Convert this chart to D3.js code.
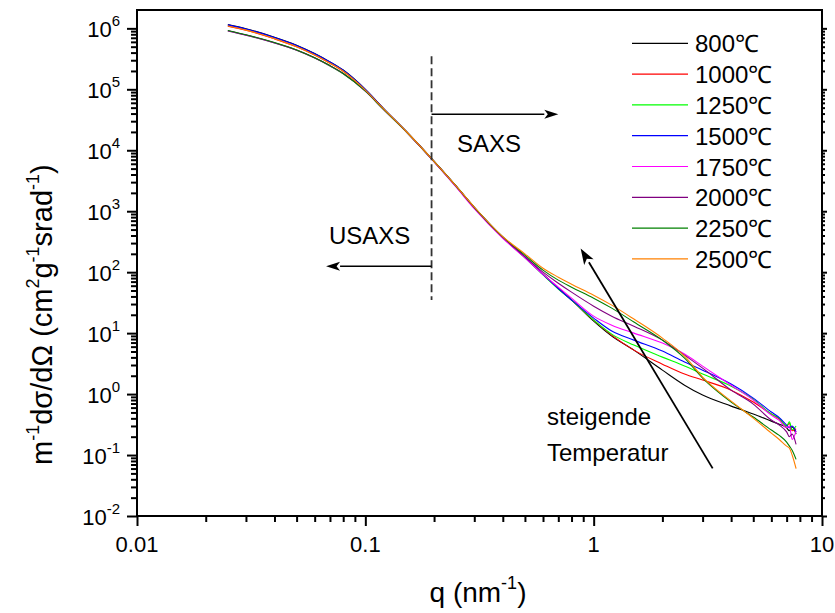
<!DOCTYPE html>
<html>
<head>
<meta charset="utf-8">
<script src="https://cdn.jsdelivr.net/npm/d3@7"></script>
<style>
  html, body { margin: 0; padding: 0; background: #fff; }
  svg { display: block; font-family: "Liberation Sans", Arial, Helvetica, sans-serif; }
</style>
</head>
<body>
<svg id="chart" width="835" height="613"></svg>
<script>
// Scattering vector q (nm^-1), shared by all curves
const q = [0.025, 0.03, 0.04, 0.05, 0.06, 0.07, 0.08, 0.1, 0.12, 0.15, 0.2, 0.25, 0.3, 0.4, 0.5,
           0.6, 0.7, 0.8, 1.0, 1.2, 1.5, 2.0, 2.5, 3.0, 4.0, 5.0, 6.0, 6.5, 7.0, 7.2, 7.4, 7.7];

// Mass-normalised cross section m^-1 dσ/dΩ (cm^2 g^-1 srad^-1) per heat-treatment temperature
const s800  = [1.15e6, 9.85e5, 7.17e5, 5.30e5, 3.86e5, 2.82e5, 2.07e5, 1.00e5, 4.88e4, 2.09e4, 6.6e3, 2.57e3, 1.16e3, 375, 176,
               93, 55, 35, 15.7, 8.93, 5.26, 2.47, 1.40, 0.963, 0.635, 0.470, 0.36, 0.32, 0.28, 0.25, 0.29, 0.22];
const s1000 = [1.087e6, 9.34e5, 6.73e5, 4.97e5, 3.64e5, 2.67e5, 1.97e5, 9.70e4, 4.79e4, 2.08e4, 6.55e3, 2.56e3, 1.15e3, 372, 176,
               93, 54, 35, 16.3, 9.27, 5.26, 3.10, 2.13, 1.70, 1.16, 0.739, 0.47, 0.39, 0.30, 0.33, 0.25, 0.27];
const s1250 = [9.03e5, 7.71e5, 5.74e5, 4.36e5, 3.25e5, 2.42e5, 1.80e5, 9.34e4, 4.70e4, 2.07e4, 6.5e3, 2.52e3, 1.13e3, 368, 172,
               90, 53, 35, 16.3, 9.63, 6.36, 4.04, 2.88, 2.13, 1.35, 0.828, 0.47, 0.40, 0.30, 0.35, 0.26, 0.30];
const s1500 = [1.14e6, 9.75e5, 7.10e5, 5.25e5, 3.83e5, 2.80e5, 2.05e5, 9.95e4, 4.86e4, 2.09e4, 6.6e3, 2.56e3, 1.15e3, 372, 176,
               92, 54, 35, 17.6, 10.8, 7.68, 5.07, 3.35, 2.47, 1.46, 0.860, 0.507, 0.41, 0.31, 0.28, 0.30, 0.24];
const s1750 = [9.1e5, 7.75e5, 5.78e5, 4.38e5, 3.27e5, 2.43e5, 1.81e5, 9.36e4, 4.70e4, 2.06e4, 6.45e3, 2.48e3, 1.10e3, 360, 172,
               92, 56.8, 37.5, 19.0, 13.5, 10.0, 6.86, 4.53, 2.88, 1.40, 0.797, 0.452, 0.37, 0.28, 0.30, 0.18, 0.25];
const s2000 = [9.15e5, 7.8e5, 5.8e5, 4.4e5, 3.28e5, 2.44e5, 1.82e5, 9.4e4, 4.72e4, 2.08e4, 6.5e3, 2.55e3, 1.15e3, 376, 180,
               100, 66, 47, 27.7, 19.0, 13.0, 7.68, 4.36, 2.67, 1.16, 0.686, 0.375, 0.31, 0.24, 0.20, 0.22, 0.15];
const s2250 = [9.2e5, 7.85e5, 5.85e5, 4.42e5, 3.3e5, 2.45e5, 1.82e5, 9.4e4, 4.72e4, 2.08e4, 6.55e3, 2.57e3, 1.16e3, 380, 190,
               108, 74, 56.8, 37.5, 25.7, 15.2, 7.68, 3.89, 1.83, 0.739, 0.420, 0.257, 0.21, 0.163, 0.14, 0.12, 0.085];
const s2500 = [1.09e6, 9.36e5, 6.75e5, 4.98e5, 3.65e5, 2.68e5, 1.98e5, 9.72e4, 4.8e4, 2.09e4, 6.6e3, 2.58e3, 1.17e3, 382, 200,
               116, 82.8, 63.6, 42.0, 28.8, 17.0, 8.28, 4.20, 1.90, 0.768, 0.404, 0.229, 0.18, 0.140, 0.13, 0.10, 0.06];

const seriesNames = ["800℃", "1000℃", "1250℃", "1500℃", "1750℃", "2000℃", "2250℃", "2500℃"];
const seriesValues = [s800, s1000, s1250, s1500, s1750, s2000, s2250, s2500];
const seriesColors = ["#000000", "#ff0000", "#00ff00", "#0000ff", "#ff00ff", "#800080", "#008000", "#ff8000"];

// Axis ticks
const xTickValues = [0.01, 0.1, 1, 10];
const xTickLabels = ["0.01", "0.1", "1", "10"];
const yTickExponents = [-2, -1, 0, 1, 2, 3, 4, 5, 6];

// Boundary between the USAXS and SAXS q ranges
const qBoundary = 0.195;

const svg = d3.select("#chart");
const plotLeft = 137, plotRight = 822, plotTop = 10, plotBottom = 516;

const x = d3.scaleLog().domain([0.01, 10]).range([plotLeft, plotRight]);
const y = d3.scaleLog().domain([0.01, 2e6]).range([plotBottom, plotTop]);

function minorTicks(lo, hi) {
  const out = [];
  for (let e = Math.floor(Math.log10(lo)); e <= Math.ceil(Math.log10(hi)); e++) {
    for (let m = 2; m <= 9; m++) {
      const v = m * Math.pow(10, e);
      if (v > lo && v < hi) out.push(v);
    }
  }
  return out;
}
const xMinor = minorTicks(0.01, 10);
const yMinor = minorTicks(0.01, 2e6);
const yMajor = yTickExponents.map(e => Math.pow(10, e));

function styleAxis(g) {
  g.select(".domain").remove();
  g.selectAll("line").attr("stroke", "#000").attr("stroke-width", 2);
}

// Left axis
svg.append("g").attr("transform", `translate(${plotLeft},0)`)
  .call(d3.axisLeft(y).tickValues(yMinor).tickSize(6).tickFormat("")).call(styleAxis);
svg.append("g").attr("transform", `translate(${plotLeft},0)`)
  .call(d3.axisLeft(y).tickValues(yMajor).tickSize(10).tickFormat("")).call(styleAxis);
// Right axis (short outward ticks)
svg.append("g").attr("transform", `translate(${plotRight},0)`)
  .call(d3.axisRight(y).tickValues(yMinor).tickSize(3).tickFormat("")).call(styleAxis);
svg.append("g").attr("transform", `translate(${plotRight},0)`)
  .call(d3.axisRight(y).tickValues(yMajor).tickSize(5).tickFormat("")).call(styleAxis);
// Bottom axis
svg.append("g").attr("transform", `translate(0,${plotBottom})`)
  .call(d3.axisBottom(x).tickValues(xMinor).tickSize(6).tickFormat("")).call(styleAxis);
svg.append("g").attr("transform", `translate(0,${plotBottom})`)
  .call(d3.axisBottom(x).tickValues(xTickValues).tickSize(10).tickFormat("")).call(styleAxis);

// Frame
svg.append("rect")
  .attr("x", plotLeft).attr("y", plotTop)
  .attr("width", plotRight - plotLeft).attr("height", plotBottom - plotTop)
  .attr("fill", "none").attr("stroke", "#000").attr("stroke-width", 2);

// Y tick labels: 10^n
const yLab = svg.append("g").attr("font-size", 22).attr("fill", "#000");
yTickExponents.forEach(e => {
  const t = yLab.append("text")
    .attr("x", 120).attr("y", y(Math.pow(10, e)) + 9)
    .attr("text-anchor", "end");
  t.append("tspan").text("10");
  t.append("tspan").attr("font-size", 15).attr("dy", -11).text(String(e));
});

// X tick labels
svg.append("g").attr("font-size", 22)
  .selectAll("text").data(xTickValues).join("text")
  .attr("x", d => x(d)).attr("y", 552)
  .attr("text-anchor", "middle")
  .text((d, i) => xTickLabels[i]);

// Axis titles
const xt = svg.append("text").attr("x", 478).attr("y", 602)
  .attr("text-anchor", "middle").attr("font-size", 28);
xt.append("tspan").text("q (nm");
xt.append("tspan").attr("font-size", 18).attr("dy", -13).text("-1");
xt.append("tspan").attr("dy", 13).text(")");

const yt = svg.append("text")
  .attr("transform", "translate(52,465) rotate(-90)")
  .attr("text-anchor", "start").attr("font-size", 29);
yt.append("tspan").text("m");
yt.append("tspan").attr("font-size", 18).attr("dy", -13).text("-1");
yt.append("tspan").attr("dy", 13).text("dσ/dΩ (cm");
yt.append("tspan").attr("font-size", 18).attr("dy", -13).text("2");
yt.append("tspan").attr("dy", 13).text("g");
yt.append("tspan").attr("font-size", 18).attr("dy", -13).text("-1");
yt.append("tspan").attr("dy", 13).text("srad");
yt.append("tspan").attr("font-size", 18).attr("dy", -13).text("-1");
yt.append("tspan").attr("dy", 13).text(")");

// Curves
const line = d3.line()
  .x((d, i) => x(q[i]))
  .y(d => y(d))
  .curve(d3.curveMonotoneX);

svg.append("g").selectAll("path").data(seriesValues).join("path")
  .attr("d", d => line(d))
  .attr("fill", "none")
  .attr("stroke", (d, i) => seriesColors[i])
  .attr("stroke-width", 1.1);

// Legend
const lg = svg.append("g");
seriesNames.forEach((name, i) => {
  const ly = 43.3 + i * 30.8;
  lg.append("line").attr("x1", 632).attr("x2", 688).attr("y1", ly).attr("y2", ly)
    .attr("stroke", seriesColors[i]).attr("stroke-width", 1.2);
  lg.append("text").attr("x", 695).attr("y", ly + 9).attr("font-size", 24).text(name);
});

// USAXS / SAXS boundary
const bx = x(qBoundary);
svg.append("line")
  .attr("x1", bx).attr("x2", bx).attr("y1", y(3.5e5)).attr("y2", y(35))
  .attr("stroke", "#333").attr("stroke-width", 1.8).attr("stroke-dasharray", "8,4");

function arrow(x1, y1, x2, y2, len, halfW, width) {
  const a = Math.atan2(y2 - y1, x2 - x1);
  const bxp = x2 - len * Math.cos(a), byp = y2 - len * Math.sin(a);
  svg.append("line").attr("x1", x1).attr("y1", y1).attr("x2", bxp).attr("y2", byp)
    .attr("stroke", "#000").attr("stroke-width", width);
  const px = -Math.sin(a) * halfW, py = Math.cos(a) * halfW;
  svg.append("path")
    .attr("d", `M${x2},${y2}L${bxp + px},${byp + py}L${bxp + len * 0.25 * Math.cos(a)},${byp + len * 0.25 * Math.sin(a)}L${bxp - px},${byp - py}Z`)
    .attr("fill", "#000");
}

arrow(bx, y(3.9e4), x(0.70), y(3.9e4), 14, 4.5, 1.5);
arrow(bx, y(125), x(0.0673), y(125), 14, 4.5, 1.5);
arrow(x(3.32), y(0.0605), x(0.877), y(245), 16, 5.5, 1.8);

const ann = svg.append("g").attr("font-size", 24);
ann.append("text").attr("x", 457).attr("y", 152).text("SAXS");
ann.append("text").attr("x", 329).attr("y", 244).text("USAXS");
ann.append("text").attr("x", 547).attr("y", 425).text("steigende");
ann.append("text").attr("x", 547).attr("y", 461).text("Temperatur");
</script>
</body>
</html>
